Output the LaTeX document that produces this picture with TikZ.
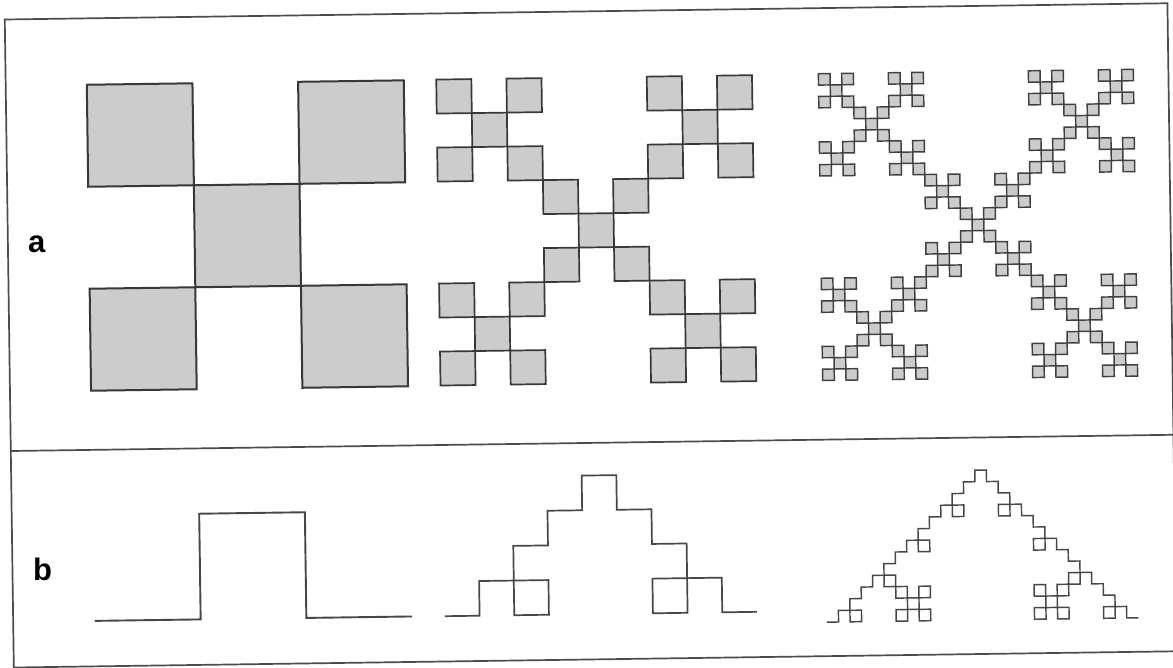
\documentclass[tikz,border=0pt]{standalone}
\usepackage{fontspec}
\setmainfont{Liberation Sans}
\begin{document}
\begin{tikzpicture}[x=1pt,y=-1pt,
  frameline/.style={draw=black!70,line width=1.7},
  sqa/.style={fill=black!20,draw=black!78,line width=2.0},
  sqb/.style={fill=black!20,draw=black!78,line width=1.7},
  sqc/.style={fill=black!20,draw=black!75,line width=1.45},
  kocha/.style={draw=black!72,line width=1.9,line join=miter},
  kochb/.style={draw=black!72,line width=1.7,line join=miter},
  kochc/.style={draw=black!72,line width=1.45,line join=miter},
  lab/.style={font=\bfseries\fontsize{31}{31}\selectfont,inner sep=0pt,anchor=base west}]
\path[fill=white,use as bounding box] (0,0) rectangle (1173,668);
\begin{scope}[rotate around={0.8:(586.5,334)}]
% frame
\coordinate (fl) at (9.2,443);
\coordinate (fr) at (1172,443);
\draw[frameline] (9.2,11.4) rectangle (1172,659.5);
\draw[frameline] (fl) -- (fr);
% labels
\node[lab] (labela) at (29,244.3) {a};
\node[lab] (labelb) at (29.5,572.4) {b};
% panel a, level 1
\foreach \xa/\ya in {0/0,2/0,1/1,0/2,2/2}
  \filldraw[sqa] ({90.3+\xa*317/3},{77.8+\ya*102}) rectangle ++(317/3,102);
% panel a, level 2
\foreach \xa/\ya in {0/0,2/0,1/1,0/2,2/2}
  \foreach \xb/\yb in {0/0,2/0,1/1,0/2,2/2}
    \filldraw[sqb] ({439.8+(3*\xa+\xb)*315.8/9},{77.5+(3*\ya+\yb)*34}) rectangle ++(315.8/9,34);
% panel a, level 3
\foreach \xa/\ya in {0/0,2/0,1/1,0/2,2/2}
  \foreach \xb/\yb in {0/0,2/0,1/1,0/2,2/2}
    \foreach \xc/\yc in {0/0,2/0,1/1,0/2,2/2}
      \filldraw[sqc] ({822+(9*\xa+3*\xb+\xc)*315/27},{77+(9*\ya+3*\yb+\yc)*306.8/27}) rectangle ++(315/27,306.8/27);
% panel b, level 1
\draw[kocha] (91,614) \foreach \ga in {0,1,0,-1,0} { -- ++({-90*\ga}:105.7) };
% panel b, level 2
\draw[kochb] (441,614.2) \foreach \ga in {0,1,0,-1,0} { \foreach \gb in {0,1,0,-1,0} { -- ++({-90*(\ga+\gb)}:34.67) } };
% panel b, level 3
\draw[kochc] (823,625.5) \foreach \ga in {0,1,0,-1,0} { \foreach \gb in {0,1,0,-1,0} { \foreach \gc in {0,1,0,-1,0} { -- ++({-90*(\ga+\gb+\gc)}:11.53) } } };
\end{scope}
\end{tikzpicture}
\end{document}
